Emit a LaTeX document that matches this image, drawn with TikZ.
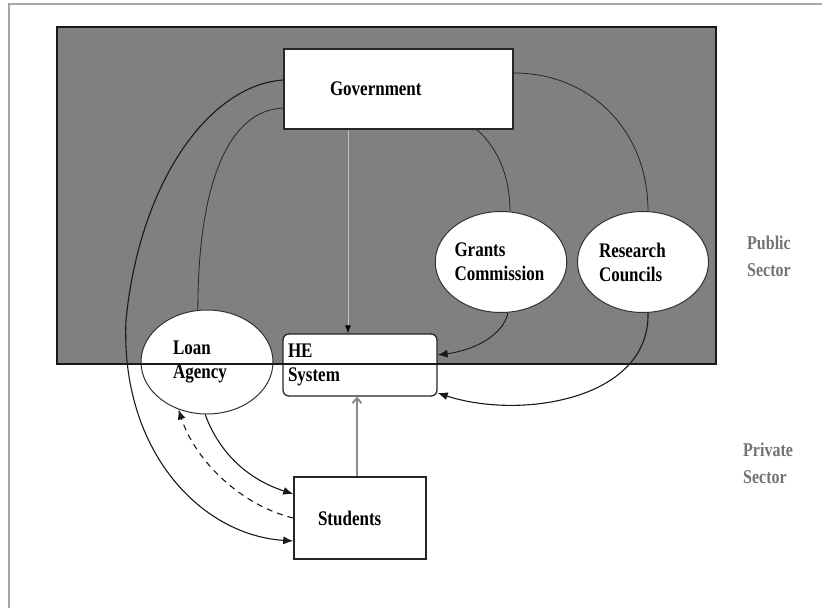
\documentclass[tikz,border=0pt]{standalone}
\usepackage{fontspec}
\usepackage{graphicx}
\setmainfont{Liberation Serif}
\usetikzlibrary{arrows.meta,shapes.geometric}
\newcommand{\tall}[1]{\scalebox{1}[1.22]{#1}}

\begin{document}
\begin{tikzpicture}[
  x=1pt, y=-1pt,
  font=\fontsize{17}{24}\selectfont\bfseries,
  actor/.style={draw=black!85, line width=1.5pt, fill=white, align=left, inner ysep=0pt},
  body/.style={ellipse, draw=black!80, line width=1pt, fill=white, align=left, inner sep=0pt,
               minimum width=131pt, minimum height=101pt},
  side/.style={text=black!55, align=left, anchor=west, inner sep=0pt,
               font=\fontsize{16}{27}\selectfont\bfseries},
  tie/.style={line width=0.8pt, draw=black!85},
  arr/.style={-{Latex[length=10pt,width=8pt]}, line width=1.1pt, draw=black!90},
  down/.style={-{Latex[length=8pt,width=6pt,color=black]}, line width=0.9pt, draw=black!25},
  enrol/.style={-{Straight Barb[length=5pt,width=9pt]}, line width=2pt, draw=black!45},
]
\useasboundingbox (0,0) rectangle (822,608);
\draw[black!35, line width=1.5pt] (9,608) |- (822,4);

% The public sector: a dark field, its edge drawn over the nodes.
\coordinate (pubNW) at (57,27);
\coordinate (pubSE) at (716,364);
\fill[black!50] (pubNW) rectangle (pubSE);

\node[actor, text width=137pt, inner xsep=46pt, minimum height=80pt] (gov) at (398.5,89) {\tall{Government}};
\node[actor, rounded corners=6pt, line width=1.3pt, text width=144pt, inner xsep=5pt,
      minimum height=62pt] (he) at (360,365) {\tall{HE}\\\tall{System}};
\node[actor, text width=84pt, inner xsep=24pt, minimum height=82pt] (stu) at (360,518) {\tall{Students}};
\node[body, text width=68pt, minimum width=132pt, minimum height=104pt] (loan) at (207,362) {\tall{Loan}\\\tall{Agency}};
\node[body, text width=93pt] (grants) at (501,262) {\tall{Grants}\\\tall{Commission}};
\node[body, text width=88pt] (rc) at (643,262) {\tall{Research}\\\tall{Councils}};

\draw[black!90, line width=1.5pt] (pubNW) rectangle (pubSE);

\node[side] (pub) at (747,256) {\tall{Public}\\\tall{Sector}};
\node[side] (priv) at (743,463) {\tall{Private}\\\tall{Sector}};

% Government and its agencies.
\draw[tie] ([yshift=-19pt]gov.west) .. controls (230,110) and (198,180) .. (loan.100);
\draw[tie] ([xshift=78.5pt]gov.south) .. controls (500,150) and (510,180) .. ([xshift=9pt]grants.north);
\draw[tie] ([yshift=16pt]gov.east) .. controls (590,73) and (648,130) .. ([xshift=5pt]rc.north);
\draw[arr] ([yshift=9pt]gov.west) .. controls (210,85) and (140,180) .. (126,320)
  .. controls (120,450) and (200,535) .. ([yshift=-23pt]stu.west);
\draw[down] ([xshift=-50.5pt]gov.south) -- ([xshift=-50.5pt]gov.south |- he.north);

% Funding into the HE system.
\draw[arr, line width=0.9pt] ([xshift=7pt]grants.south) .. controls (503,335) and (475,350) .. ([yshift=10pt]he.east);
\draw[arr] ([xshift=5pt]rc.south) .. controls (650,400) and (520,420) .. ([yshift=-28pt]he.east);

% Loans and repayments.
\draw[arr] (loan.268) .. controls (220,455) and (250,480) .. ([yshift=24pt]stu.west);
\draw[arr, dash pattern=on 6pt off 5pt] (stu.west) .. controls (240,505) and (195,460) .. (loan.239);
\draw[enrol] ([xshift=-3pt]stu.north) -- ([xshift=-3pt]stu.north |- he.south);

\end{tikzpicture}
\end{document}
